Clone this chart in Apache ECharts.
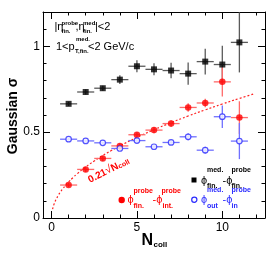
<!DOCTYPE html>
<html><head><meta charset="utf-8">
<script src="https://cdn.jsdelivr.net/npm/echarts@6/dist/echarts.min.js"></script>
<style>html,body{margin:0;padding:0;background:#fff}#c{width:270px;height:257px}</style>
</head><body><div id="c"></div>
<script>
// ---- data ----
const NCOLL = [1, 2, 3, 4, 5, 6, 7, 8, 9, 10, 11];
const XERR = 0.5;
const SIG_MED_FIN = [0.665, 0.734, 0.756, 0.806, 0.884, 0.866, 0.859, 0.841, 0.911, 0.894, 1.023];
const ERR_MED_FIN = [0.012, 0.015, 0.015, 0.025, 0.035, 0.035, 0.045, 0.065, 0.075, 0.11, 0.175];
const SIG_PROBE = [0.192, 0.283, 0.347, 0.420, 0.485, 0.512, 0.550, 0.644, 0.670, 0.793, 0.585];
const ERR_PROBE = [0.012, 0.015, 0.015, 0.015, 0.015, 0.018, 0.020, 0.025, 0.025, 0.085, 0.095];
const SIG_OUT_IN = [0.459, 0.449, 0.438, 0.405, 0.451, 0.415, 0.440, 0.473, 0.395, 0.590, 0.448];
const ERR_OUT_IN = [0.008, 0.008, 0.008, 0.010, 0.012, 0.012, 0.015, 0.020, 0.020, 0.065, 0.105];
const CURVE_X = [0.06, 0.1, 0.15, 0.2, 0.3, 0.4, 0.5, 0.65, 0.8, 1, 1.25, 1.5, 2, 2.5, 3, 3.5, 4, 5, 6, 7, 8, 9, 10, 11, 11.9];
const CURVE_Y = [0.0514, 0.0664, 0.0813, 0.0939, 0.1150, 0.1328, 0.1485, 0.1693, 0.1878, 0.2100, 0.2348, 0.2572, 0.2970, 0.3320, 0.3637, 0.3929, 0.4200, 0.4696, 0.5144, 0.5556, 0.5940, 0.6300, 0.6641, 0.6965, 0.7244];
const X_MAJOR = [0, 5, 10];
const X_MINOR = [0, 1, 2, 3, 4, 5, 6, 7, 8, 9, 10, 11, 12];
const Y_MAJOR = [0, 0.5, 1];
const Y_MINOR = [0, 0.1, 0.2, 0.3, 0.4, 0.5, 0.6, 0.7, 0.8, 0.9, 1.0, 1.1, 1.2];

const F = "'Liberation Sans', Arial, Helvetica, sans-serif";
const chart = echarts.init(document.getElementById('c'), null, {renderer: 'canvas'});

function xAx(pos, ticks, len, labels, line) {
  return {
    type: 'value', min: -0.5, max: 12.5, position: pos,
    axisLine: {show: line, onZero: false, lineStyle: {color: '#000', width: 1}},
    axisTick: {show: true, inside: true, length: len, customValues: ticks, lineStyle: {color: '#000', width: 1}},
    axisLabel: labels ? {show: true, customValues: X_MAJOR, margin: 4, fontSize: 12, color: '#000', fontFamily: F} : {show: false},
    splitLine: {show: false}
  };
}
function yAx(pos, ticks, len, labels, line) {
  return {
    type: 'value', min: 0, max: 1.2, position: pos,
    axisLine: {show: line, onZero: false, lineStyle: {color: '#000', width: 1}},
    axisTick: {show: true, inside: true, length: len, customValues: ticks, lineStyle: {color: '#000', width: 1}},
    axisLabel: labels ? {show: true, customValues: Y_MAJOR, margin: 3, fontSize: 12, color: '#000', fontFamily: F} : {show: false},
    splitLine: {show: false}
  };
}

function errSeries(ys, es, color) {
  return {
    type: 'custom', xAxisIndex: 0, yAxisIndex: 0, z: 2,
    data: NCOLL.map((x, i) => [x, ys[i], es[i]]),
    renderItem: function (params, api) {
      const x = api.value(0), y = api.value(1), e = api.value(2);
      const a = api.coord([x - XERR, y]), b = api.coord([x + XERR, y]);
      const c = api.coord([x, y - e]), d = api.coord([x, y + e]);
      return {type: 'group', children: [
        {type: 'line', shape: {x1: a[0], y1: a[1], x2: b[0], y2: b[1]}, style: {stroke: color, lineWidth: 1.3}},
        {type: 'line', shape: {x1: c[0], y1: c[1], x2: d[0], y2: d[1]}, style: {stroke: color, lineWidth: 1.3}}
      ]};
    }
  };
}

function txt(x, y, s, size, color, weight, align) {
  return {type: 'text', x: x, y: y, z: 10, style: {text: s, fontSize: size, fontFamily: F, fontWeight: weight || 'normal', fill: color, align: align || 'left', verticalAlign: 'middle'}};
}

const graphics = [
  // top-left annotations
  txt(54.5, 27, '|η', 11, '#000'),
  txt(61.5, 23.5, 'probe', 6, '#000', 'bold'),
  txt(61.5, 31.5, 'fin.', 6, '#000', 'bold'),
  txt(75.5, 27, ',η', 11, '#000'),
  txt(83, 23.5, 'med.', 6, '#000', 'bold'),
  txt(83, 31.5, 'fin.', 6, '#000', 'bold'),
  txt(95, 27, '|<2', 11, '#000'),
  txt(56, 46.7, '1<p', 11, '#000'),
  txt(76, 39.5, 'med.', 6, '#000', 'bold'),
  txt(75, 51.5, 'T,fin.', 6, '#000', 'bold'),
  txt(88, 46.7, '<2 GeV/c', 11, '#000'),
  // legend black
  {type: 'rect', z: 10, shape: {x: 191.5, y: 177.5, width: 5, height: 5}, style: {fill: '#000'}},
  txt(201, 180.5, 'ϕ', 11, '#000'),
  txt(207, 170.5, 'med.', 7, '#000', 'bold'),
  txt(207, 186.5, 'fin.', 7, '#000', 'bold'),
  txt(222.5, 180.5, '-ϕ', 11, '#000'),
  txt(231.5, 170.5, 'probe', 7, '#000', 'bold'),
  txt(231.5, 186.5, 'fin.', 7, '#000', 'bold'),
  // legend blue
  {type: 'circle', z: 10, shape: {cx: 194.3, cy: 199.7, r: 2.6}, style: {fill: '#fff', stroke: '#2a2aff', lineWidth: 1.2}},
  txt(201, 200.3, 'ϕ', 11, '#2a2aff'),
  txt(207, 190.5, 'med.', 7, '#2a2aff', 'bold'),
  txt(207, 206.5, 'out', 7, '#2a2aff', 'bold'),
  txt(222.5, 200.3, '-ϕ', 11, '#2a2aff'),
  txt(231.5, 190.5, 'probe', 7, '#2a2aff', 'bold'),
  txt(231.5, 206.5, 'in', 7, '#2a2aff', 'bold'),
  // legend red
  {type: 'circle', z: 10, shape: {cx: 121.7, cy: 200, r: 3.2}, style: {fill: '#ff0000'}},
  txt(127.5, 200.3, 'ϕ', 11, '#ff0000'),
  txt(133.5, 191.5, 'probe', 7, '#ff0000', 'bold'),
  txt(133.5, 206.5, 'fin.', 7, '#ff0000', 'bold'),
  txt(152.5, 200.3, '-ϕ', 11, '#ff0000'),
  txt(161.5, 191.5, 'probe', 7, '#ff0000', 'bold'),
  txt(162.5, 206.5, 'int.', 7, '#ff0000', 'bold'),
  // axis titles
  {type: 'text', x: 13, y: 116, rotation: Math.PI / 2, z: 10, style: {text: 'Gaussian σ', fontSize: 14, fontWeight: 'bold', fontFamily: F, fill: '#000', align: 'center', verticalAlign: 'middle'}},
  txt(141.5, 240.5, 'N', 16, '#000', 'bold'),
  txt(153.5, 245, 'coll', 8, '#000', 'bold'),
  // curve label
  {type: 'text', x: 91, y: 185, rotation: 27 * Math.PI / 180, z: 10, style: {
    text: '{a|0.21}{r|√}{a|N}{s|coll}', align: 'left', verticalAlign: 'bottom',
    rich: {
      a: {fontSize: 10, fontWeight: 'bold', fontFamily: F, fill: '#ff0000', verticalAlign: 'bottom'},
      r: {fontSize: 11, fontFamily: F, fill: '#ff0000', verticalAlign: 'bottom'},
      s: {fontSize: 7, fontWeight: 'bold', fontFamily: F, fill: '#ff0000', verticalAlign: 'bottom'}
    }
  }}
];

const option = {
  animation: false,
  backgroundColor: '#fff',
  grid: {left: 43, top: 12, right: 5, bottom: 39, containLabel: false},
  xAxis: [
    xAx('bottom', X_MAJOR, 7, true, true),
    xAx('bottom', X_MINOR, 3.5, false, false),
    xAx('top', X_MAJOR, 7, false, true),
    xAx('top', X_MINOR, 3.5, false, false)
  ],
  yAxis: [
    yAx('left', Y_MAJOR, 7, true, true),
    yAx('left', Y_MINOR, 3.5, false, false),
    yAx('right', Y_MAJOR, 7, false, true),
    yAx('right', Y_MINOR, 3.5, false, false)
  ],
  series: [
    {type: 'line', xAxisIndex: 0, yAxisIndex: 0, z: 1, smooth: true, showSymbol: false, silent: true,
      data: CURVE_X.map((x, i) => [x, CURVE_Y[i]]),
      lineStyle: {color: '#ff2020', width: 1.2, type: [2, 2]}},
    errSeries(SIG_MED_FIN, ERR_MED_FIN, '#5a5a5a'),
    errSeries(SIG_PROBE, ERR_PROBE, '#ff6a6a'),
    errSeries(SIG_OUT_IN, ERR_OUT_IN, '#7070ff'),
    {type: 'scatter', xAxisIndex: 0, yAxisIndex: 0, z: 5, symbol: 'rect', symbolSize: 6,
      data: NCOLL.map((x, i) => [x, SIG_MED_FIN[i]]), itemStyle: {color: '#000'}},
    {type: 'scatter', xAxisIndex: 0, yAxisIndex: 0, z: 5, symbol: 'circle', symbolSize: 6.5,
      data: NCOLL.map((x, i) => [x, SIG_PROBE[i]]), itemStyle: {color: '#ff0000'}},
    {type: 'scatter', xAxisIndex: 0, yAxisIndex: 0, z: 5, symbol: 'circle', symbolSize: 5.5,
      data: NCOLL.map((x, i) => [x, SIG_OUT_IN[i]]), itemStyle: {color: '#fff', borderColor: '#2a2aff', borderWidth: 1.2}}
  ],
  graphic: graphics
};
chart.setOption(option);
</script>
</body></html>
